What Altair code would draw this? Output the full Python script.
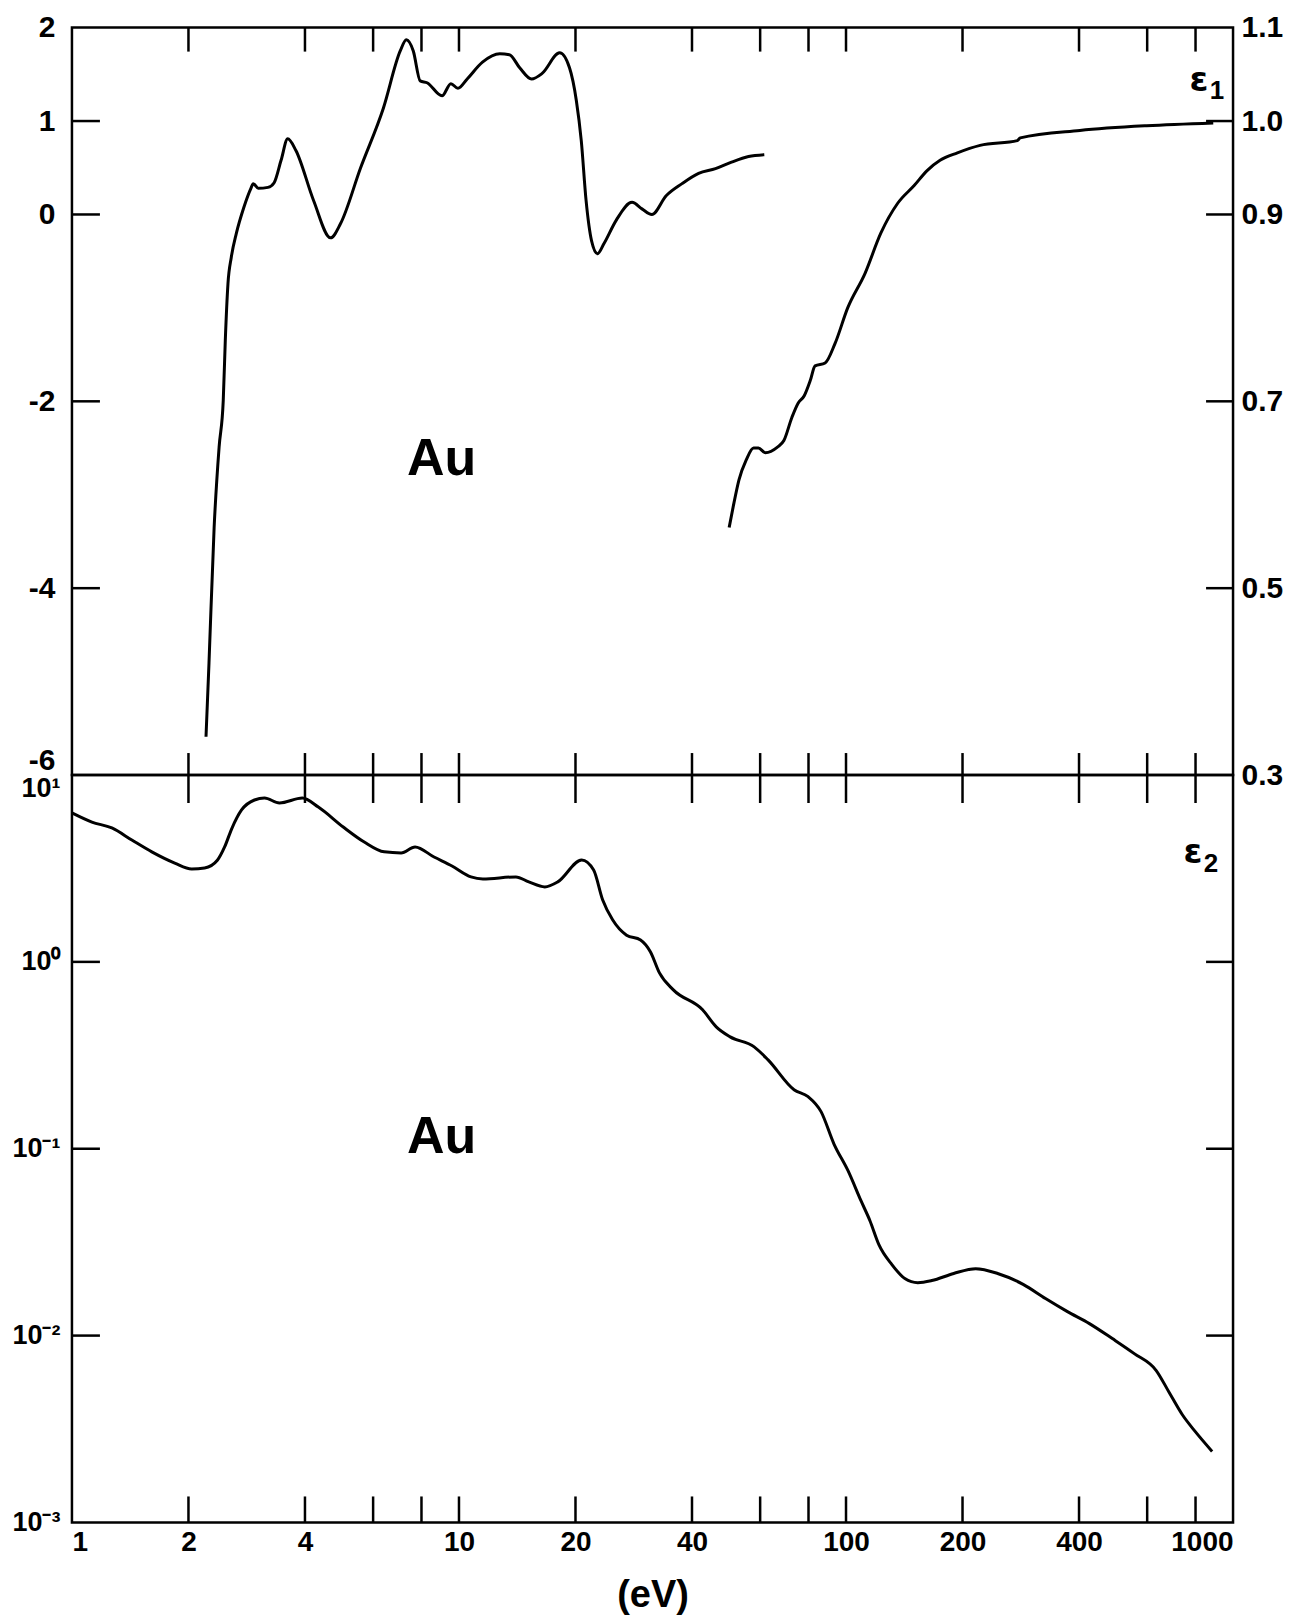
import altair as alt
import pandas as pd

# ---------------- data ----------------
# epsilon_1, low-energy branch (left axis, -6 .. 2)
E1_LOW_EV = [2.22, 2.26, 2.33, 2.40, 2.46, 2.49, 2.53, 2.58, 2.66, 2.78,
             2.90, 2.94, 3.03, 3.21, 3.33, 3.47, 3.61, 3.79, 4.21, 4.66,
             4.94, 5.57, 6.38, 7.05, 7.31, 7.62, 7.94, 8.27, 9.04, 9.53,
             9.94, 10.5, 11.5, 12.75, 13.5, 14.35, 15.4, 16.4, 18.2, 19.3,
             20.1, 20.7, 21.3, 22.0, 22.8, 23.7, 25.5, 28.0, 29.7, 31.5,
             34.3, 37.7, 41.6, 46.0, 50.6, 56.0, 61.5]
E1_LOW = [-5.59, -4.80, -3.35, -2.49, -1.99, -1.35, -0.74, -0.46, -0.20, 0.075,
          0.28, 0.33, 0.28, 0.29, 0.34, 0.58, 0.81, 0.685, 0.15, -0.25,
          -0.10, 0.50, 1.14, 1.75, 1.87, 1.75, 1.43, 1.41, 1.27, 1.40,
          1.35, 1.45, 1.63, 1.72, 1.71, 1.57, 1.45, 1.51, 1.73, 1.57,
          1.22, 0.79, 0.15, -0.28, -0.42, -0.31, -0.06, 0.13, 0.06, 0.0,
          0.20, 0.33, 0.44, 0.49, 0.56, 0.62, 0.64]

# epsilon_1, high-energy branch (right axis, 0.3 .. 1.1)
E1_HIGH_EV = [49.9, 51.1, 52.9, 55.2, 57.7, 59.4, 61.9, 66.5, 69.1, 72.5,
              75.2, 78.0, 80.8, 83.2, 88.3, 93.7, 101, 112, 123, 136,
              150, 162, 175, 194, 222, 277, 282, 402, 598, 889]
E1_HIGH = [0.565, 0.587, 0.616, 0.637, 0.650, 0.650, 0.645, 0.651, 0.658, 0.683,
           0.698, 0.706, 0.722, 0.738, 0.741, 0.762, 0.800, 0.837, 0.880, 0.912,
           0.931, 0.947, 0.958, 0.966, 0.974, 0.979, 0.982, 0.990, 0.995, 0.998]

# epsilon_2 (log axis)
E2_EV = [1.0, 1.126, 1.268, 1.428, 1.608, 1.843, 2.039, 2.202, 2.378, 2.480,
         2.585, 2.743, 2.962, 3.144, 3.437, 3.939, 4.331, 5.023, 5.692, 6.408,
         7.088, 7.701, 8.622, 9.594, 10.74, 11.53, 14.03, 15.15, 16.66, 18.0,
         20.75, 22.28, 23.50, 24.94, 27.1, 29.45, 31.25, 32.96, 35.8, 42.6,
         46.2, 50.2, 57.9, 62.9, 73.4, 79.8, 86.2, 93.1, 101.2, 109.3,
         115.3, 121.6, 131.4, 141.9, 153.3, 166.6, 189.8, 216.3, 246.5, 287.6,
         327.7, 373.4, 425.5, 487.6, 555.6, 633.2, 684, 739, 798, 883]
E2 = [6.27, 5.60, 5.21, 4.49, 3.88, 3.38, 3.14, 3.18, 3.51, 4.12,
      5.14, 6.50, 7.35, 7.53, 7.09, 7.53, 6.74, 5.27, 4.38, 3.88,
      3.83, 4.12, 3.64, 3.26, 2.85, 2.78, 2.85, 2.68, 2.52, 2.68,
      3.51, 3.10, 2.15, 1.68, 1.39, 1.31, 1.13, 0.873, 0.708, 0.554,
      0.449, 0.397, 0.351, 0.299, 0.207, 0.190, 0.158, 0.106, 0.0763, 0.0527,
      0.0412, 0.0307, 0.0240, 0.0202, 0.0192, 0.0197, 0.0215, 0.0228, 0.0215, 0.01875,
      0.01578, 0.01343, 0.01159, 0.00964, 0.00801, 0.0065, 0.00496, 0.00378, 0.00307, 0.0024]

X_TICKS = [2, 4, 6, 8, 10, 20, 40, 60, 80, 100, 200, 400, 600, 800]
X_LABELS = [1, 2, 4, 10, 20, 40, 100, 200, 400, 1000]
E1_LEFT_LABELS = [2, 1, 0, -2, -4, -6]
E1_LEFT_TICKS = [1, 0, -2, -4]
E1_RIGHT_LABELS = [1.1, 1.0, 0.9, 0.7, 0.5, 0.3]
E1_RIGHT_TICKS = [1.0, 0.9, 0.7, 0.5]
E2_LABELS = [10, 1, 0.1, 0.01, 0.001]
E2_TICKS = [1, 0.1, 0.01]

SAMPLE = ["Au"]
EPS = ["ε"]
SUB1 = ["1"]
SUB2 = ["2"]

# ---------------- styling ----------------
W = 1162
H = 748
FONT = "Liberation Sans"
LBL = 28
LBL_E1 = 30
LW = 3
TW = 2.5
LEFT_EXT = 62

xs = alt.Scale(type="log", domain=[1, 1000], nice=False)
yl = alt.Scale(domain=[-6, 2], nice=False, zero=False)
yr = alt.Scale(domain=[0.3, 1.1], nice=False, zero=False)
y2s = alt.Scale(type="log", domain=[0.001, 10], nice=False)

low_df = pd.DataFrame({"e": E1_LOW_EV, "v": E1_LOW})
high_df = pd.DataFrame({"e": E1_HIGH_EV, "v": E1_HIGH})
e2_df = pd.DataFrame({"e": E2_EV, "v": E2})
xt_df = pd.DataFrame({"e": X_TICKS})


def axis_common(**kw):
    base = dict(ticks=False, domain=False, grid=False, title=None,
                labelFont=FONT, labelFontSize=LBL, labelFontWeight="bold",
                labelColor="black", labelOverlap=False)
    base.update(kw)
    return alt.Axis(**base)


def text_layer(values, x, y, size, font=FONT, align="center"):
    return alt.Chart(pd.DataFrame({"t": values})).mark_text(
        font=font, fontSize=size, fontWeight="bold", color="black",
        align=align, baseline="alphabetic"
    ).encode(x=alt.value(x), y=alt.value(y), text="t:N")


def xticks(y0, y1):
    return alt.Chart(xt_df).mark_rule(color="black", strokeWidth=TW).encode(
        x=alt.X("e:Q", scale=xs, axis=None),
        y=alt.value(y0), y2=alt.value(y1))


# ---------------- top panel: epsilon_1 ----------------
low = alt.Chart(low_df).mark_line(color="black", strokeWidth=LW, interpolate="monotone").encode(
    x=alt.X("e:Q", scale=xs, axis=None),
    y=alt.Y("v:Q", scale=yl, axis=axis_common(
        orient="left", values=E1_LEFT_LABELS, labelPadding=17, labelFontSize=LBL_E1,
        minExtent=LEFT_EXT, maxExtent=LEFT_EXT,
        labelExpr="datum.value < 0 ? '-' + toString(abs(datum.value)) : toString(datum.value)",
        labelBaseline={"condition": {"test": "datum.value === -6", "value": "bottom"}, "value": "middle"},
    )),
)
high = alt.Chart(high_df).mark_line(color="black", strokeWidth=LW, interpolate="monotone").encode(
    x=alt.X("e:Q", scale=xs, axis=None),
    y=alt.Y("v:Q", scale=yr, axis=axis_common(
        orient="right", values=E1_RIGHT_LABELS, format=".1f", labelPadding=8,
        labelFontSize=LBL_E1, minExtent=0, maxExtent=52)),
)
lt_top = alt.Chart(pd.DataFrame({"v": E1_LEFT_TICKS})).mark_rule(color="black", strokeWidth=TW).encode(
    y=alt.Y("v:Q", scale=yl, axis=None), x=alt.value(0), x2=alt.value(28))
rt_top = alt.Chart(pd.DataFrame({"v": E1_RIGHT_TICKS})).mark_rule(color="black", strokeWidth=TW).encode(
    y=alt.Y("v:Q", scale=yr, axis=None), x=alt.value(W - 27), x2=alt.value(W))

top = alt.layer(
    low, high, lt_top, rt_top,
    xticks(0, 24), xticks(H - 22, H),
    text_layer(SAMPLE, 370, 448, 52),
    text_layer(EPS, 1128, 63, 34, font="DejaVu Sans"),
    text_layer(SUB1, 1146, 71, 26),
).resolve_scale(y="independent").resolve_axis(y="independent").properties(width=W, height=H)

# ---------------- bottom panel: epsilon_2 ----------------
e2 = alt.Chart(e2_df).mark_line(color="black", strokeWidth=LW, interpolate="monotone").encode(
    x=alt.X("e:Q", scale=xs, axis=axis_common(
        orient="bottom", values=X_LABELS, labelPadding=6,
        labelExpr="toString(datum.value)",
        title="(eV)", titleFont=FONT, titleFontSize=38, titleFontWeight="bold",
        titleColor="black", titlePadding=20)),
    y=alt.Y("v:Q", scale=y2s, axis=axis_common(
        orient="left", values=E2_LABELS, labelPadding=12, labelFontSize=27,
        minExtent=LEFT_EXT, maxExtent=LEFT_EXT,
        labelExpr="datum.value >= 5 ? '10¹' : datum.value >= 0.5 ? '10⁰' : datum.value >= 0.05 ? '10⁻¹' : datum.value >= 0.005 ? '10⁻²' : '10⁻³'",
        labelBaseline={"condition": {"test": "datum.value >= 5", "value": "top"}, "value": "middle"},
    )),
)
lt_bot = alt.Chart(pd.DataFrame({"v": E2_TICKS})).mark_rule(color="black", strokeWidth=TW).encode(
    y=alt.Y("v:Q", scale=y2s, axis=None), x=alt.value(0), x2=alt.value(28))
rt_bot = alt.Chart(pd.DataFrame({"v": E2_TICKS})).mark_rule(color="black", strokeWidth=TW).encode(
    y=alt.Y("v:Q", scale=y2s, axis=None), x=alt.value(W - 27), x2=alt.value(W))

bottom = alt.layer(
    e2, lt_bot, rt_bot,
    xticks(0, 28), xticks(H - 26, H),
    text_layer(SAMPLE, 370, 378, 52),
    text_layer(EPS, 1122, 88, 34, font="DejaVu Sans"),
    text_layer(SUB2, 1140, 97, 26),
).resolve_axis(x="independent", y="independent").properties(width=W, height=H)

chart = alt.vconcat(top, bottom, spacing=0, bounds="flush").configure_view(
    stroke="black", strokeWidth=2.5
).properties(
    padding={"left": 0, "top": 2, "right": 0, "bottom": 0},
    background="white",
)

chart.save("out.html", embed_options={"renderer": "svg", "actions": False})
